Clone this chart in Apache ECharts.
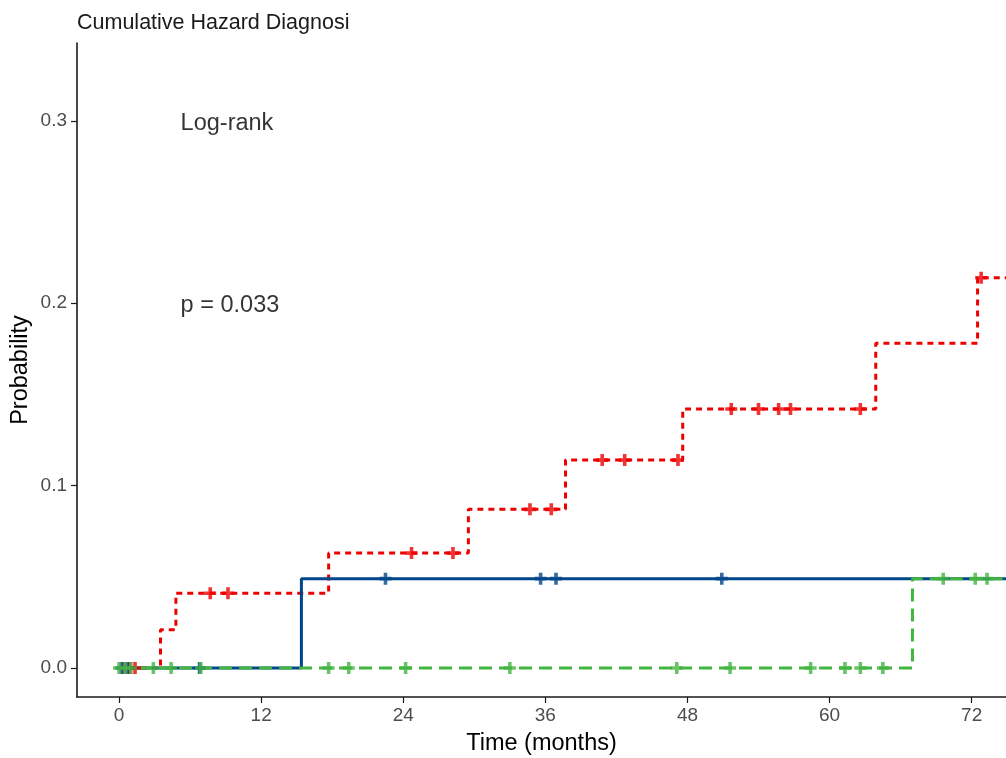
<!DOCTYPE html>
<html>
<head>
<meta charset="utf-8">
<title>Cumulative Hazard Diagnosi</title>
<script src="https://cdn.jsdelivr.net/npm/echarts@6.0.0/dist/echarts.min.js"></script>
<style>
  html, body { margin: 0; padding: 0; background: #fff; }
  #main { width: 1006px; height: 758px; }
</style>
</head>
<body>
<div id="main"></div>
<script type="text/javascript">
// step curves: time where each step starts, and the hazard from there on
var redTimes = [0, 3.5, 4.8, 17.7, 29.5, 37.7, 47.6, 63.9, 72.5];
var redHaz   = [0, 0.021, 0.041, 0.063, 0.087, 0.114, 0.142, 0.178, 0.214];
var blueTimes = [0, 15.4];
var blueHaz   = [0, 0.049];
var greenTimes = [0, 67.0];
var greenHaz   = [0, 0.049];
var lastTime = 76;

// censored times (the "+" marks)
var redCensor = [0.4, 0.9, 1.35, 7.7, 9.2, 24.7, 28.2, 34.7, 36.5, 40.8, 42.7, 47.2, 51.7, 54.0, 55.7, 56.7, 62.6, 72.8];
var blueCensor = [0.2, 0.7, 6.8, 22.5, 35.6, 36.9, 50.9];
var greenCensor = [0, 0.5, 1.0, 2.9, 4.4, 6.9, 17.7, 19.4, 24.2, 33.0, 47.1, 51.6, 58.4, 61.3, 62.6, 64.5, 69.6, 72.3, 73.3];

var xTicks = [0, 12, 24, 36, 48, 60, 72];
var yTicks = [0, 0.1, 0.2, 0.3];
var pvalText = ['Log-rank', 'p = 0.033'];

var colRed = '#ED0000', colBlue = '#00468B', colGreen = '#42B540';
var plus = 'path://M3.5,0H6.5V3.5H10V6.5H6.5V10H3.5V6.5H0V3.5H3.5Z';

function steps(times, haz) {
  var d = [];
  for (var i = 0; i < times.length; i++) d.push([times[i], haz[i]]);
  d.push([lastTime, haz[haz.length - 1]]);
  return d;
}
// put each censor mark on its own curve
function marks(cens, times, haz) {
  return cens.map(function (t) {
    var v = haz[0];
    for (var i = 0; i < times.length; i++) if (times[i] <= t) v = haz[i];
    return [t, v];
  });
}

var myChart = echarts.init(document.getElementById('main'));
var font = 'Liberation Sans, Arial, sans-serif';

var option = {
  animation: false,
  backgroundColor: '#fff',
  title: {
    text: 'Cumulative Hazard Diagnosi',
    left: 77, top: 12, padding: 0,
    textStyle: { fontFamily: font, fontSize: 21.5, fontWeight: 'normal', color: '#1a1a1a' }
  },
  grid: { left: 77, right: 0, top: 43, bottom: 61, containLabel: false, outerBoundsMode: 'none' },
  xAxis: {
    type: 'value', min: -3.55, max: 74.9,
    name: 'Time (months)', nameLocation: 'middle', nameGap: 35, nameMoveOverlap: false,
    nameTextStyle: { fontFamily: font, fontSize: 23.5, color: '#000' },
    axisLine: { onZero: false, lineStyle: { color: '#1a1a1a', width: 1.6 } },
    axisTick: { show: true, length: 6, customValues: xTicks, lineStyle: { color: '#1a1a1a', width: 1.2 } },
    axisLabel: { customValues: xTicks, margin: 9, fontFamily: font, fontSize: 19, color: '#4D4D4D' },
    splitLine: { show: false }
  },
  yAxis: {
    type: 'value', min: -0.0159, max: 0.3427,
    name: 'Probability', nameLocation: 'middle', nameGap: 44, nameMoveOverlap: false,
    nameTextStyle: { fontFamily: font, fontSize: 23.5, color: '#000' },
    axisLine: { show: true, onZero: false, lineStyle: { color: '#1a1a1a', width: 1.6 } },
    axisTick: { show: true, length: 6, customValues: yTicks, lineStyle: { color: '#1a1a1a', width: 1.2 } },
    axisLabel: { customValues: yTicks, margin: 10, fontFamily: font, fontSize: 19, color: '#4D4D4D',
      formatter: function (v) { return v.toFixed(1); } },
    splitLine: { show: false }
  },
  series: [
    { type: 'line', step: 'end', data: steps(redTimes, redHaz), showSymbol: false, z: 2,
      lineStyle: { color: colRed, width: 3, type: [6, 5] } },
    { type: 'line', step: 'end', data: steps(blueTimes, blueHaz), showSymbol: false, z: 2,
      lineStyle: { color: colBlue, width: 3 } },
    { type: 'line', step: 'end', data: steps(greenTimes, greenHaz), showSymbol: false, z: 2,
      lineStyle: { color: colGreen, width: 3, type: [13, 7] } },
    { type: 'scatter', data: marks(redCensor, redTimes, redHaz), symbol: plus, symbolSize: 12, z: 3,
      itemStyle: { color: colRed } },
    { type: 'scatter', data: marks(blueCensor, blueTimes, blueHaz), symbol: plus, symbolSize: 12, z: 3,
      itemStyle: { color: colBlue } },
    { type: 'scatter', data: marks(greenCensor, greenTimes, greenHaz), symbol: plus, symbolSize: 12, z: 3,
      itemStyle: { color: colGreen } },
    { type: 'scatter', symbolSize: 0, z: 4, silent: true,
      data: [[5.2, 0.2985, pvalText[0]], [5.2, 0.199, pvalText[1]]],
      label: { show: true, position: 'right', distance: 0, fontFamily: font, fontSize: 23.5, color: '#000',
        formatter: function (p) { return p.data[2]; } } }
  ]
};
myChart.setOption(option);
</script>
</body>
</html>
